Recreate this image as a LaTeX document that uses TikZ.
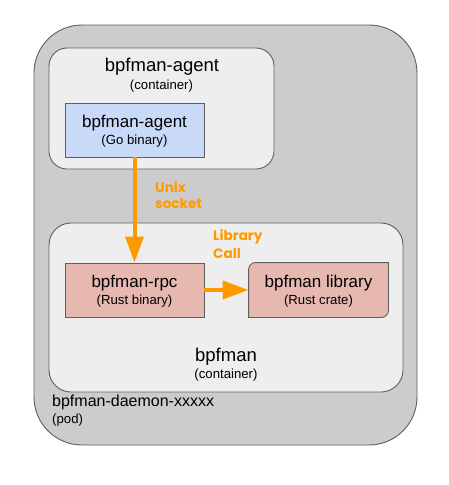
\documentclass[tikz,border=0pt]{standalone}
\usepackage{fontspec}
\setmainfont{Liberation Sans}
\newfontfamily\lblfont{Poppins}
\usetikzlibrary{arrows.meta,calc}
\definecolor{podfill}{HTML}{CCCCCC}
\definecolor{edgegray}{HTML}{5F5F5F}
\definecolor{contfill}{HTML}{EEEEEE}
\definecolor{bluefill}{HTML}{C9DAF8}
\definecolor{redfill}{HTML}{E6B8AF}
\definecolor{orng}{HTML}{FF9900}
\begin{document}
\begin{tikzpicture}[x=1pt,y=1pt,
  box/.style={draw=edgegray, line width=0.9pt, inner sep=0pt},
  podbox/.style={box, fill=podfill, rounded corners=48pt},
  contbox/.style={box, fill=contfill},
  binbox/.style={box, minimum width=139pt, minimum height=54pt},
  txt/.style={inner sep=0pt, text=black},
  big/.style={txt, font=\fontsize{18.5}{20}\selectfont},
  mid/.style={txt, font=\fontsize{17}{19}\selectfont},
  dmn/.style={txt, font=\fontsize{16}{18}\selectfont},
  small/.style={txt, font=\fontsize{13.2}{15}\selectfont},
  lbl/.style={inner sep=0pt, text=orng, font=\lblfont\bfseries\fontsize{13.6}{15}\selectfont},
  flow/.style={draw=orng, line width=4pt, -{Triangle[width=18pt,length=26pt]}}
]
\useasboundingbox (0,0) rectangle (449,-485);
\node[podbox, minimum width=383pt, minimum height=420pt] (pod) at (225.5,-235) {};
\node[contbox, rounded corners=18pt, minimum width=225pt, minimum height=121pt] (agentc) at (161.5,-108.5) {};
\node[contbox, rounded corners=22pt, minimum width=354pt, minimum height=169pt] (bpfc) at (226,-307.5) {};
\node[binbox, fill=bluefill] (agentbin) at (134.5,-130) {};
\node[binbox, fill=redfill] (rpc) at (134.5,-290) {};
\node[binbox, draw=none] (lib) at (318.5,-290) {};
\draw[draw=edgegray, line width=0.9pt, fill=redfill]
  ($(lib.north west)+(0,-7)$) arc[start angle=180, end angle=90, radius=7pt]
  -- (lib.north east) -- ($(lib.south east)+(0,7)$)
  arc[start angle=0, end angle=-90, radius=7pt] -- (lib.south west) -- cycle;
% texts
\node[big] (t1) at (162,-67) {bpfman-agent};
\node[small] (t2) at (161.5,-86) {(container)};
\node[mid] (t3) at (134.5,-123) {bpfman-agent};
\node[small] (t4) at (134.5,-141) {(Go binary)};
\node[mid] (t5) at (134.5,-283) {bpfman-rpc};
\node[small] (t6) at (134.5,-301) {(Rust binary)};
\node[mid] (t7) at (318.5,-283) {bpfman library};
\node[small] (t8) at (318.5,-301) {(Rust crate)};
\node[big] (t9) at (226,-357) {bpfman};
\node[small] (t10) at (226,-375) {(container)};
\node[dmn, anchor=west] (t11) at (52,-402) {bpfman-daemon-xxxxx};
\node[small, anchor=west] (t12) at (52,-420) {(pod)};
\node[lbl, anchor=west] (l1) at (155,-187) {Unix};
\node[lbl, anchor=west] (l2) at (155,-204) {socket};
\node[lbl, anchor=west] (l3) at (213,-237) {Library};
\node[lbl, anchor=west] (l4) at (213,-254) {Call};
% connectors
\draw[flow] (agentbin.south) -- (rpc.north);
\draw[flow] (rpc.east) -- (lib.west);
\end{tikzpicture}
\end{document}
